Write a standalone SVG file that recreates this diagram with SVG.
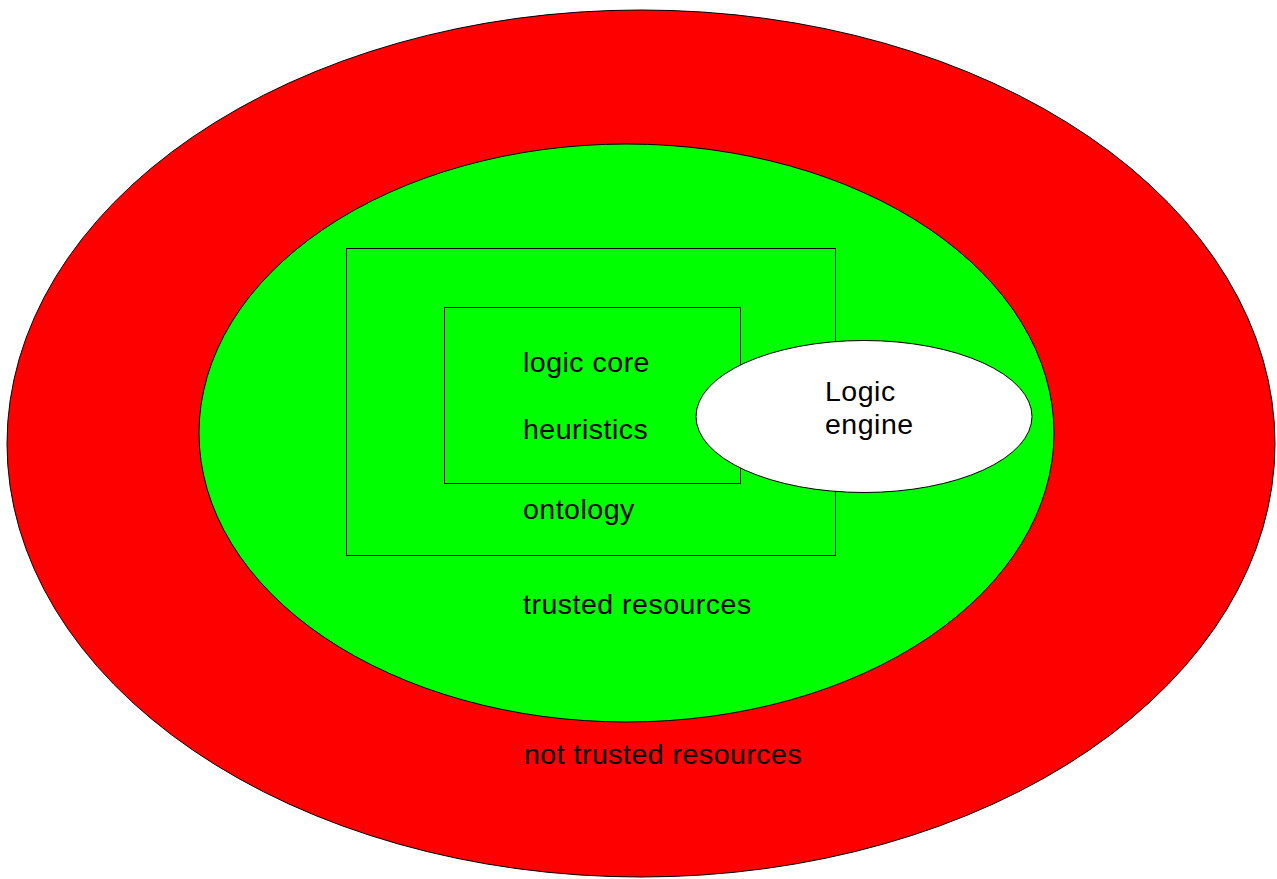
<svg xmlns="http://www.w3.org/2000/svg" width="1277" height="879" viewBox="0 0 1277 879">
<style>
.shape{stroke:#000;stroke-width:1}
.lbl{font-family:"Liberation Sans",Arial,sans-serif;font-size:28.5px;letter-spacing:0.5px;fill:#000}
</style>
<rect width="1277" height="879" fill="#fff"/>
<g id="not-trusted">
<ellipse class="shape" cx="641" cy="443.5" rx="634" ry="433.5" fill="#ff0000"/>
<text class="lbl" x="524" y="764">not trusted resources</text>
</g>
<g id="trusted">
<ellipse class="shape" cx="626.5" cy="433" rx="427.5" ry="289" fill="#00ff00"/>
<text class="lbl" x="523" y="614">trusted resources</text>
</g>
<g id="ontology">
<rect class="shape" x="346.5" y="248.5" width="489" height="307" fill="none"/>
<text class="lbl" x="523" y="519">ontology</text>
</g>
<g id="core">
<rect class="shape" x="444.5" y="307.5" width="296" height="176" fill="none"/>
<text class="lbl" x="523" y="372">logic core</text>
<text class="lbl" x="523" y="439">heuristics</text>
</g>
<g id="engine">
<ellipse class="shape" cx="864" cy="416.5" rx="168" ry="76" fill="#fff"/>
<text class="lbl" x="825" y="401">Logic</text>
<text class="lbl" x="825" y="434">engine</text>
</g>
<g id="connectors"/>
</svg>
